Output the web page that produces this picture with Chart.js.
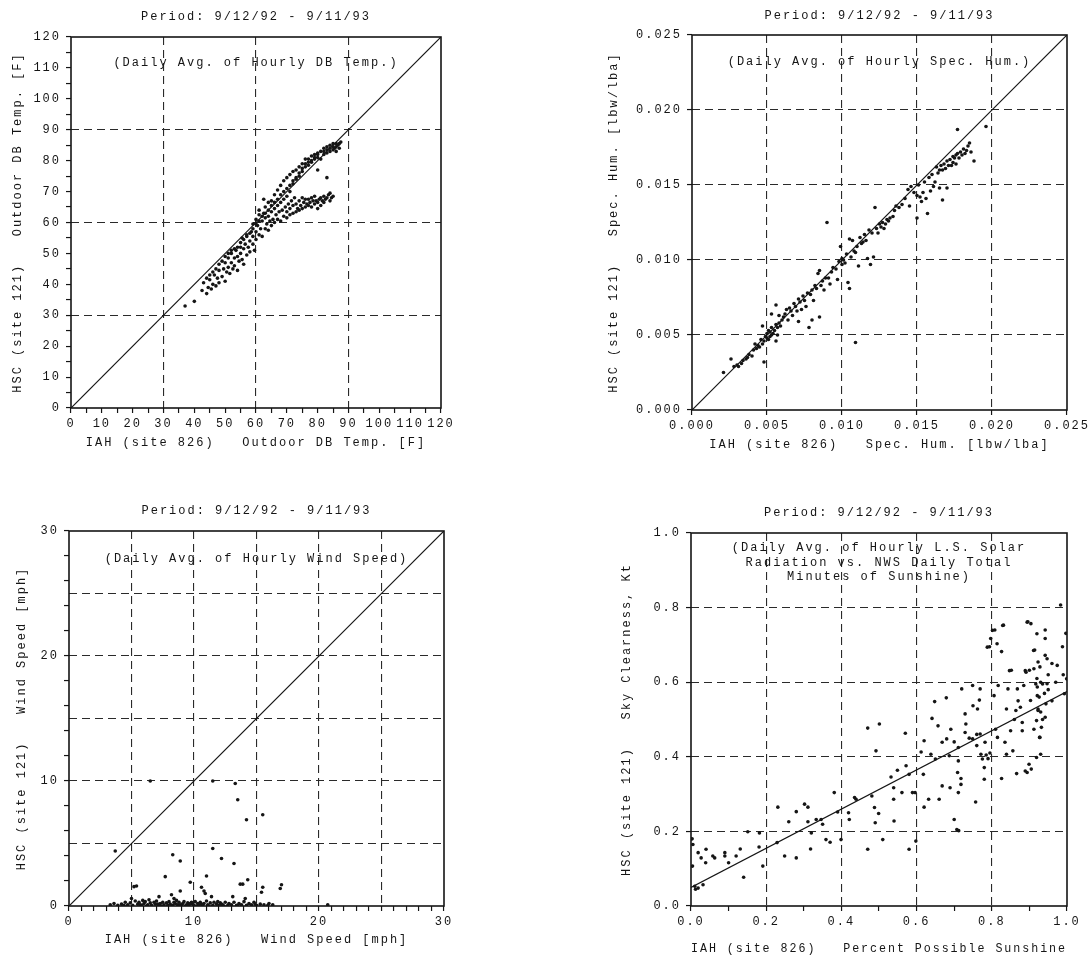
<!DOCTYPE html>
<html>
<head>
<meta charset="utf-8">
<title>HSC vs IAH daily comparisons</title>
<script src="https://cdn.jsdelivr.net/npm/chart.js@4.4.1/dist/chart.umd.min.js"></script>
<style>
  html, body { margin: 0; padding: 0; background: #fff; }
  #page { position: relative; width: 1091px; height: 956px; overflow: hidden; }
  .panel { position: absolute; }
</style>
</head>
<body>
<div id="page">
  <div class="panel" style="left:0;top:0;width:545px;height:478px"><canvas id="tempChart"></canvas></div>
  <div class="panel" style="left:545px;top:0;width:546px;height:478px"><canvas id="humChart"></canvas></div>
  <div class="panel" style="left:0;top:478px;width:545px;height:478px"><canvas id="windChart"></canvas></div>
  <div class="panel" style="left:545px;top:478px;width:546px;height:478px"><canvas id="sunChart"></canvas></div>
</div>
<script>
// Daily values, [IAH (site 826), HSC (site 121)]
const tempDays = [
  [37,33],[40,34.5],[42.5,38],[43,40.5],[44,37],[44.5,39],[45,41.5],[45.5,38.5],[46,40],[46.5,43],
  [47,39.5],[47.5,42],[48,44.5],[48,40.5],[49,42.5],[49.5,45],[50,41],[50,47],[50.5,44],[51,48.5],
  [51,45.5],[51.5,43.5],[52,47],[52,50],[52.5,45],[53,48.5],[53,46],[53.5,51],[54,49],[54,44.5],
  [54.5,47.5],[55,52],[55,50],[55.5,48],[55.5,55],[56,51.5],[56,46.5],[56.5,53],[57,49.5],[57,55.5],
  [57.5,52],[58,54],[58,50.5],[58.5,57],[59,53],[59,55.5],[59,59.5],[59.5,51],[60,57],[60,54.5],
  [60,61],[60.5,59],[61,56],[61,62.5],[61,64],[61.5,58],[62,60.5],[62,55.5],[62.5,67.5],[62.5,63],
  [63,58],[63,61.5],[63,65],[63.5,59.5],[64,62],[64,57.5],[64,66.5],[64.5,60.5],[65,63.5],[65,59],
  [65,67],[65.5,61],[66,64.5],[66,60],[66,69],[66.5,62.5],[67,65.5],[67,61],[67,70.5],[67.5,63.5],
  [68,60.5],[68,66.5],[68,72],[68.5,64],[69,62],[69,67.5],[69,73.5],[69.5,65],[70,61.5],[70,63.5],
  [70,68.5],[70,74.5],[70.5,66],[71,62.5],[71,64.5],[71,70],[71,75.5],[71.5,67],[72,63],[72,65.5],
  [72,72.5],[72,76.5],[72.5,68],[73,63.5],[73,66],[73,74],[73,77],[73.5,64.5],[74,64],[74,67],
  [74,76],[74,78],[74.5,65.5],[75,64.5],[75,68],[75,77.5],[75,79],[75.5,66.5],[76,65],[76,67.5],
  [76,79],[76,80.5],[76.5,66],[77,65.5],[77,67.5],[77,78.5],[77,80.5],[77.5,66.5],[78,65],[78,68],
  [78,79.5],[78,81.5],[78.5,67],[79,66],[79,68.5],[79,80.5],[79,82],[79.5,67],[80,64.5],[80,66.5],
  [80,77],[80,81],[80,82.5],[80.5,67.5],[81,65.5],[81,68],[81,80.5],[81,83],[81.5,67],[82,66.5],
  [82,68.5],[82,82],[82,84],[82.5,67.5],[83,68],[83,74.5],[83,82.5],[83,84.5],[83.5,69],[84,67],
  [84,69.5],[84,83],[84,85],[84.5,68],[85,68.5],[85,83.5],[85,85.5],[85.5,84],[86,84.5],[86,85.5],
  [86,83],[86.5,85],[87,85.5],[87,84],[87.5,86],[85,84.5],[84,84],[83,83.5],[82,83],[80,82],
  [79,81],[78,80],[77,79.5],[76,78],[75,76.5],[74,75],[73,74.5],[72,73.5],[71,72],[70,71],
  [69,70],[68,69],[67,67.5],[66,66.5],[65,65.5],[64,64],[63,63],[62,62],[61,60.5],[60,59.5],
  [59,58],[58,56.5],[57,56],[56,54.5],[55,53.5],[54,52],[53,51.5],[52,51],[51,50],[50,49],
  [49,47.5],[48,46.5],[47,45],[46,44],[45,43],[44,42]
];

const humDays = [
  [0.0021,0.0025],[0.0026,0.0034],[0.0028,0.0029],[0.0030,0.0030],[0.0031,0.0029],[0.0033,0.0031],
  [0.0034,0.0033],[0.0036,0.0034],[0.0037,0.0035],[0.0038,0.0037],[0.0040,0.0036],[0.0041,0.0040],
  [0.0042,0.0044],[0.0043,0.0041],[0.0044,0.0043],[0.0045,0.0042],[0.0046,0.0047],[0.0047,0.0044],
  [0.0047,0.0056],[0.0048,0.0032],[0.0048,0.0046],[0.0049,0.0049],[0.0050,0.0048],[0.0050,0.0051],
  [0.0051,0.0053],[0.0051,0.0047],[0.0052,0.0052],[0.0052,0.0049],[0.0053,0.0055],[0.0053,0.0050],
  [0.0053,0.0064],[0.0054,0.0051],[0.0055,0.0053],[0.0056,0.0046],[0.0056,0.0057],[0.0056,0.0070],
  [0.0057,0.0050],[0.0057,0.0055],[0.0058,0.0063],[0.0058,0.0058],[0.0059,0.0056],[0.0060,0.0060],
  [0.0061,0.0062],[0.0062,0.0064],[0.0063,0.0067],[0.0064,0.0060],[0.0065,0.0068],[0.0066,0.0066],
  [0.0067,0.0063],[0.0068,0.0071],[0.0069,0.0069],[0.0070,0.0066],[0.0071,0.0059],[0.0071,0.0074],
  [0.0072,0.0072],[0.0073,0.0067],[0.0074,0.0076],[0.0075,0.0073],[0.0076,0.0069],[0.0077,0.0078],
  [0.0078,0.0055],[0.0079,0.0077],[0.0080,0.0060],[0.0080,0.0080],[0.0081,0.0073],[0.0082,0.0083],
  [0.0083,0.0081],[0.0084,0.0091],[0.0085,0.0062],[0.0085,0.0093],[0.0086,0.0083],[0.0087,0.0086],
  [0.0088,0.0080],[0.0089,0.0088],[0.0090,0.0125],[0.0091,0.0088],[0.0092,0.0084],[0.0093,0.0092],
  [0.0094,0.0095],[0.0096,0.0094],[0.0097,0.0087],[0.0098,0.0099],[0.0099,0.0109],[0.0100,0.0101],
  [0.0100,0.0097],[0.0101,0.0100],[0.0102,0.0098],[0.0103,0.0104],[0.0104,0.0085],[0.0105,0.0114],
  [0.0105,0.0081],[0.0106,0.0102],[0.0107,0.0113],[0.0108,0.0106],[0.0109,0.0105],[0.0109,0.0045],
  [0.0110,0.0109],[0.0111,0.0096],[0.0112,0.0115],[0.0113,0.0111],[0.0114,0.0112],[0.0115,0.0117],
  [0.0116,0.0113],[0.0117,0.0101],[0.0118,0.0120],[0.0119,0.0097],[0.0120,0.0118],[0.0121,0.0102],
  [0.0122,0.0135],[0.0123,0.0121],[0.0124,0.0118],[0.0125,0.0124],[0.0126,0.0122],[0.0127,0.0125],
  [0.0128,0.0121],[0.0129,0.0124],[0.0130,0.0127],[0.0131,0.0126],[0.0132,0.0128],[0.0134,0.0129],
  [0.0135,0.0133],[0.0136,0.0136],[0.0138,0.0135],[0.0140,0.0137],[0.0142,0.0141],[0.0144,0.0147],
  [0.0145,0.0136],[0.0146,0.0149],[0.0148,0.0145],[0.0150,0.0128],[0.0150,0.0143],[0.0151,0.0150],
  [0.0152,0.0142],[0.0153,0.0139],[0.0154,0.0145],[0.0155,0.0152],[0.0156,0.0141],[0.0157,0.0131],
  [0.0158,0.0155],[0.0159,0.0146],[0.0160,0.0157],[0.0161,0.0149],[0.0162,0.0152],[0.0163,0.0162],
  [0.0164,0.0158],[0.0165,0.0148],[0.0165,0.0160],[0.0166,0.0163],[0.0167,0.0140],[0.0167,0.0160],
  [0.0168,0.0164],[0.0169,0.0161],[0.0170,0.0148],[0.0170,0.0166],[0.0171,0.0163],[0.0172,0.0167],
  [0.0173,0.0163],[0.0174,0.0169],[0.0174,0.0165],[0.0175,0.0168],[0.0176,0.0170],[0.0176,0.0164],
  [0.0177,0.0171],[0.0177,0.0187],[0.0178,0.0168],[0.0179,0.0172],[0.0180,0.0170],[0.0181,0.0174],
  [0.0182,0.0171],[0.0183,0.0173],[0.0184,0.0176],[0.0185,0.0178],[0.0186,0.0172],[0.0188,0.0166],
  [0.0196,0.0189]
];

const windDays = [
  [3.7,4.4],[6.5,10.0],[11.5,10.0],[13.3,9.8],[13.5,8.5],[14.2,6.9],[15.5,7.3],[8.3,4.1],[8.9,3.6],
  [11.5,4.6],[12.2,3.8],[13.2,3.4],[7.7,2.35],[9.7,1.9],[11.0,2.4],[14.3,2.1],[13.7,1.75],[13.9,1.75],
  [17.0,1.7],[16.9,1.4],[15.5,1.5],[15.4,1.1],[5.2,1.55],[5.4,1.6],[10.6,1.5],[10.8,1.2],[10.9,1.0],
  [8.9,1.2],[8.2,0.9],[7.2,0.75],[13.1,0.75],[14.1,0.6],[11.4,0.75],[6.4,0.5],[8.4,0.6],[5.0,0.6],
  [16.0,0.2],[20.7,0.1],
  [3.3,0.1],[3.6,0.2],[3.9,0.05],[4.2,0.15],[4.5,0.3],[4.7,0.1],[4.9,0.25],[5.1,0.05],[5.3,0.4],
  [5.5,0.15],[5.6,0.3],[5.8,0.05],[6.0,0.2],[6.1,0.35],[6.3,0.1],[6.5,0.25],[6.6,0.05],[6.8,0.3],
  [6.9,0.15],[7.0,0.4],[7.2,0.05],[7.3,0.2],[7.5,0.3],[7.6,0.1],[7.8,0.25],[7.9,0.05],[8.0,0.35],
  [8.1,0.15],[8.3,0.05],[8.4,0.3],[8.5,0.2],[8.6,0.45],[8.7,0.1],[8.8,0.3],[9.0,0.05],[9.1,0.2],
  [9.2,0.35],[9.4,0.1],[9.5,0.25],[9.6,0.05],[9.8,0.3],[9.9,0.15],[10.0,0.05],[10.1,0.35],[10.3,0.2],
  [10.4,0.1],[10.5,0.3],[10.7,0.05],[10.8,0.2],[11.0,0.4],[11.1,0.1],[11.3,0.25],[11.5,0.05],[11.6,0.3],
  [11.8,0.15],[12.0,0.05],[12.1,0.25],[12.3,0.1],[12.5,0.3],[12.7,0.05],[12.8,0.2],[13.0,0.1],[13.2,0.3],
  [13.4,0.05],[13.6,0.2],[13.8,0.1],[14.0,0.35],[14.2,0.05],[14.4,0.2],[14.6,0.1],[14.8,0.3],[15.0,0.05],
  [15.3,0.15],[15.6,0.1],[15.9,0.05],[16.3,0.1],[6.2,0.0],[7.4,0.0],[8.8,0.0],[9.3,0.0],[10.2,0.0],
  [11.2,0.0],[12.4,0.0],[13.5,0.0],[5.7,0.1],[7.1,0.15],[8.9,0.1],[10.6,0.15],[12.2,0.15],[9.7,0.2],
  [11.9,0.35],[5.9,0.45],[4.4,0.05],[14.9,0.15]
];

const sunDays = [
  [0.005,0.165],[0.004,0.107],[0.003,0.180],[0.010,0.053],[0.012,0.045],[0.019,0.048],[0.032,0.057],
  [0.019,0.143],[0.027,0.129],[0.040,0.152],[0.039,0.116],[0.058,0.134],[0.063,0.129],[0.090,0.143],
  [0.090,0.134],[0.100,0.116],[0.120,0.134],[0.131,0.153],[0.140,0.077],[0.151,0.199],[0.181,0.158],
  [0.182,0.196],[0.191,0.107],[0.231,0.265],[0.229,0.170],[0.249,0.134],[0.260,0.226],[0.280,0.129],
  [0.280,0.253],[0.302,0.273],[0.311,0.265],[0.311,0.226],[0.320,0.196],[0.318,0.153],[0.333,0.232],
  [0.346,0.232],[0.350,0.219],[0.359,0.178],[0.370,0.171],[0.381,0.304],[0.399,0.178],[0.390,0.252],
  [0.419,0.250],[0.421,0.232],[0.435,0.291],[0.439,0.286],[0.470,0.477],[0.470,0.152],[0.481,0.295],
  [0.488,0.264],[0.492,0.416],[0.490,0.223],[0.501,0.488],[0.499,0.248],[0.510,0.178],[0.532,0.346],
  [0.539,0.317],[0.539,0.286],[0.540,0.228],[0.549,0.364],[0.561,0.304],[0.570,0.463],[0.572,0.376],
  [0.580,0.353],[0.580,0.152],[0.589,0.304],[0.596,0.304],[0.598,0.174],[0.612,0.413],[0.618,0.353],
  [0.620,0.265],[0.620,0.443],[0.632,0.286],[0.641,0.503],[0.638,0.407],[0.648,0.548],[0.650,0.394],
  [0.657,0.483],[0.660,0.286],[0.668,0.439],[0.668,0.322],[0.679,0.558],[0.680,0.448],[0.687,0.403],
  [0.689,0.317],[0.691,0.474],[0.700,0.232],[0.707,0.205],[0.712,0.202],[0.711,0.425],[0.711,0.389],
  [0.709,0.358],[0.711,0.304],[0.718,0.342],[0.718,0.326],[0.720,0.582],[0.729,0.515],[0.729,0.465],
  [0.731,0.488],[0.749,0.448],[0.749,0.591],[0.750,0.537],[0.757,0.279],[0.760,0.430],[0.762,0.528],
  [0.767,0.552],[0.769,0.582],[0.769,0.461],[0.771,0.407],[0.775,0.394],[0.780,0.371],[0.780,0.340],
  [0.782,0.439],[0.788,0.694],[0.797,0.717],[0.802,0.739],[0.806,0.564],[0.810,0.474],[0.814,0.703],
  [0.815,0.452],[0.817,0.591],[0.826,0.682],[0.826,0.342],[0.829,0.752],[0.835,0.439],[0.839,0.528],
  [0.839,0.407],[0.843,0.582],[0.847,0.631],[0.856,0.416],[0.864,0.524],[0.866,0.355],[0.868,0.582],
  [0.876,0.533],[0.881,0.492],[0.881,0.470],[0.885,0.591],[0.889,0.631],[0.889,0.362],[0.894,0.761],
  [0.899,0.380],[0.903,0.551],[0.904,0.757],[0.911,0.685],[0.912,0.636],[0.912,0.474],[0.917,0.595],
  [0.920,0.730],[0.921,0.564],[0.923,0.528],[0.923,0.654],[0.928,0.452],[0.930,0.407],[0.935,0.595],
  [0.921,0.587],[0.926,0.560],[0.930,0.520],[0.919,0.497],[0.927,0.452],[0.935,0.500],[0.944,0.542],
  [0.942,0.506],[0.947,0.596],[0.999,0.609],[0.993,0.569],[0.988,0.695],[0.997,0.731],[0.983,0.807],
  [0.960,0.650],[0.974,0.645],[0.932,0.479],[0.905,0.367],[0.894,0.358],[0.919,0.398],[0.923,0.524],
  [0.942,0.740],[0.942,0.717],[0.896,0.762],[0.914,0.686],[0.942,0.672],[0.947,0.663],[0.928,0.641],
  [0.900,0.632],[0.891,0.627],[0.852,0.632],[0.831,0.753],[0.794,0.695],[0.808,0.740],[0.785,0.405],
  [0.790,0.395],[0.795,0.410],[0.700,0.440],[0.740,0.450],[0.760,0.460],[0.850,0.470],[0.860,0.500],
  [0.870,0.550],[0.950,0.580],[0.960,0.550],[0.970,0.600],[0.990,0.620],[0.950,0.620],[0.930,0.600],
  [0.920,0.610],[0.940,0.570]
];

// reference lines: 1:1 lines and the fitted line on the sunshine plot
const tempLine = [[0, 0], [120, 120]];
const humLine = [[0, 0], [0.025, 0.025]];
const windLine = [[0, 0], [30, 30]];
const sunFit = [[0, 0.05], [1.0, 0.575]];

const periodText = 'Period: 9/12/92 - 9/11/93';

const FONT = "'Liberation Mono', 'DejaVu Sans Mono', monospace";
const INK = '#151515';
const NONE = 'rgba(0,0,0,0)';

function isMult(v, m) {
    const r = v / m;
    return Math.abs(r - Math.round(r)) < 1e-6;
}

function toPoints(pairs) {
    return pairs.map(p => ({ x: p[0], y: p[1] }));
}

// plotter-like letter spacing on every text drawn
const spacingPlugin = {
    id: 'spacing',
    beforeDraw(chart) { chart.ctx.letterSpacing = '2px'; }
};

// frame round the plot area and the note text inside it
const framePlugin = {
    id: 'frame',
    afterDatasetsDraw(chart) {
        const { ctx, chartArea: a } = chart;
        const note = chart.options.plugins.note;
        ctx.save();
        ctx.strokeStyle = INK;
        ctx.lineWidth = 1.6;
        ctx.strokeRect(a.left, a.top, a.right - a.left, a.bottom - a.top);
        if (note) {
            ctx.fillStyle = INK;
            ctx.font = '12px ' + FONT;
            ctx.letterSpacing = '2px';
            ctx.textAlign = 'center';
            ctx.textBaseline = 'middle';
            note.lines.forEach((t, i) => {
                ctx.fillText(t, (a.left + a.right) / 2, a.top + note.dy[i]);
            });
        }
        ctx.restore();
    }
};

function axis(pos, ax, lay) {
    const lh = 14.4;
    const isX = pos === 'bottom';
    return {
        type: 'linear',
        position: pos,
        min: ax.min,
        max: ax.max,
        border: { display: false, dash: [8, 5] },
        grid: {
            lineWidth: 1.1,
            color: c => {
                if (!c.tick) return NONE;
                const v = c.tick.value;
                if (v <= ax.min + 1e-9 || v >= ax.max - 1e-9) return NONE;
                return isMult(v, ax.grid) ? '#2a2a2a' : NONE;
            },
            tickColor: c => (c.tick && isMult(c.tick.value, ax.marks)) ? INK : NONE,
            tickLength: 5,
            tickWidth: 1.2
        },
        ticks: {
            stepSize: ax.step,
            autoSkip: false,
            maxRotation: 0,
            minRotation: 0,
            padding: isX ? 4 : 5,
            color: INK,
            font: { family: FONT, size: 12 },
            callback: v => isMult(v, ax.label) ? ax.fmt(v) : ''
        },
        title: {
            display: true,
            text: ax.title,
            color: INK,
            font: { family: FONT, size: 12 },
            padding: isX
                ? { top: 0, bottom: lay.box[1] + lay.box[3] - lay.xTitleY - lh / 2 }
                : { top: lay.yTitleX - lay.box[0] - lh / 2, bottom: 0 }
        },
        afterFit: s => {
            if (isX) s.height = lay.box[1] + lay.box[3] - lay.plot[3];
            else s.width = lay.plot[0] - lay.box[0];
            s.paddingLeft = 0; s.paddingRight = 0; s.paddingTop = 0; s.paddingBottom = 0;
        }
    };
}

function makePanel(canvasId, pairs, line, xAx, yAx, lay, noteLines) {
    const titleTop = lay.titleY - lay.box[1] - 7.2;
    const titleBottom = (lay.plot[1] - lay.box[1]) - 14.4 - titleTop;
    return new Chart(document.getElementById(canvasId), {
        type: 'scatter',
        data: {
            datasets: [{
                data: toPoints(pairs),
                pointRadius: 1.8,
                pointHoverRadius: 1.8,
                pointBackgroundColor: INK,
                pointBorderWidth: 0
            }, {
                data: toPoints(line),
                showLine: true,
                borderColor: INK,
                borderWidth: 1.2,
                pointRadius: 0
            }]
        },
        options: {
            responsive: true,
            maintainAspectRatio: false,
            animation: false,
            layout: { padding: { left: 0, top: 0, bottom: 0, right: lay.box[0] + lay.box[2] - lay.plot[2] } },
            plugins: {
                legend: { display: false },
                tooltip: { enabled: false },
                title: {
                    display: true,
                    text: periodText,
                    fullSize: false,
                    color: INK,
                    font: { family: FONT, size: 12, weight: 'normal' },
                    padding: { top: titleTop, bottom: titleBottom }
                },
                note: noteLines
            },
            scales: {
                x: axis('bottom', xAx, lay),
                y: axis('left', yAx, lay)
            }
        },
        plugins: [spacingPlugin, framePlugin]
    });
}

const int = v => String(Math.round(v));

makePanel('tempChart', tempDays, tempLine,
    { min: 0, max: 120, step: 5, label: 10, grid: 30, marks: 5, fmt: int,
      title: 'IAH (site 826)   Outdoor DB Temp. [F]' },
    { min: 0, max: 120, step: 5, label: 10, grid: 30, marks: 5, fmt: int,
      title: 'HSC (site 121)   Outdoor DB Temp. [F]' },
    { box: [0, 0, 545, 478], plot: [71, 37, 441, 408], titleY: 17, yTitleX: 18, xTitleY: 443 },
    { lines: ['(Daily Avg. of Hourly DB Temp.)'], dy: [26] });

makePanel('humChart', humDays, humLine,
    { min: 0, max: 0.025, step: 0.005, label: 0.005, grid: 0.005, marks: 0.005, fmt: v => v.toFixed(3),
      title: 'IAH (site 826)   Spec. Hum. [lbw/lba]' },
    { min: 0, max: 0.025, step: 0.005, label: 0.005, grid: 0.005, marks: 0.005, fmt: v => v.toFixed(3),
      title: 'HSC (site 121)   Spec. Hum. [lbw/lba]' },
    { box: [545, 0, 546, 478], plot: [692, 35, 1067, 410], titleY: 16, yTitleX: 614, xTitleY: 445 },
    { lines: ['(Daily Avg. of Hourly Spec. Hum.)'], dy: [27] });

makePanel('windChart', windDays, windLine,
    { min: 0, max: 30, step: 1, label: 10, grid: 5, marks: 1, fmt: int,
      title: 'IAH (site 826)   Wind Speed [mph]' },
    { min: 0, max: 30, step: 1, label: 10, grid: 5, marks: 2, fmt: int,
      title: 'HSC (site 121)   Wind Speed [mph]' },
    { box: [0, 478, 545, 478], plot: [69, 531, 444, 906], titleY: 511, yTitleX: 22, xTitleY: 940 },
    { lines: ['(Daily Avg. of Hourly Wind Speed)'], dy: [28] });

makePanel('sunChart', sunDays, sunFit,
    { min: 0, max: 1, step: 0.1, label: 0.2, grid: 0.2, marks: 0.1, fmt: v => v.toFixed(1),
      title: 'IAH (site 826)   Percent Possible Sunshine' },
    { min: 0, max: 1, step: 0.2, label: 0.2, grid: 0.2, marks: 0.2, fmt: v => v.toFixed(1),
      title: 'HSC (site 121)   Sky Clearness, Kt' },
    { box: [545, 478, 546, 478], plot: [691, 533, 1067, 906], titleY: 513, yTitleX: 627, xTitleY: 949 },
    { lines: ['(Daily Avg. of Hourly L.S. Solar', 'Radiation vs. NWS Daily Total', 'Minutes of Sunshine)'],
      dy: [15, 29.5, 43.5] });
</script>
</body>
</html>
